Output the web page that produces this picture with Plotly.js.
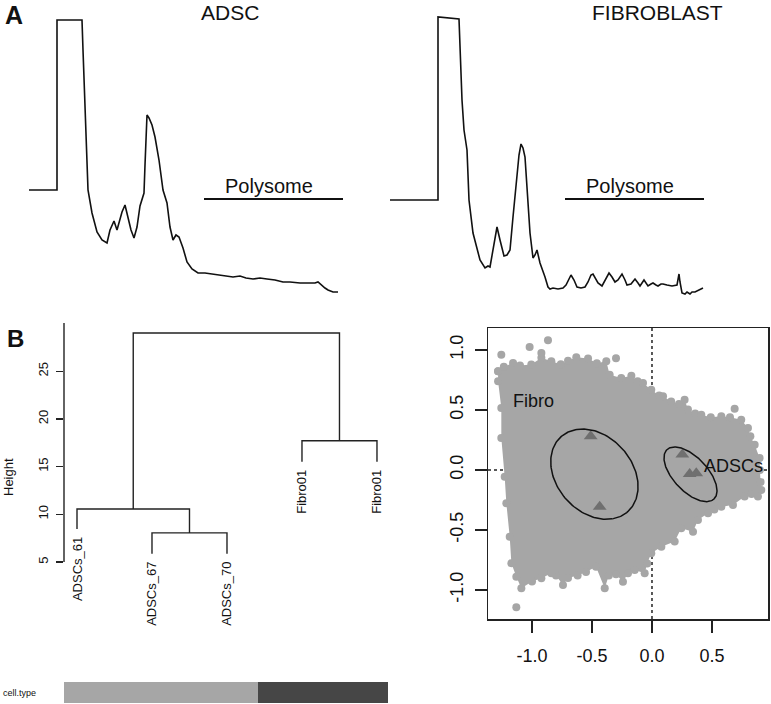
<!DOCTYPE html>
<html><head><meta charset="utf-8">
<script src="https://cdn.plot.ly/plotly-3.0.1.min.js"></script>
<style>html,body{margin:0;padding:0;background:#fff}#chart{width:771px;height:704px}</style>
</head><body><div id="chart"></div>
<script>
// ---------- Panel A: polysome profiles (position, absorbance; arbitrary units) ----------
const adscPos = [0,28,28,53,54,57,59,63,68,73,78,81,85,88,91,93,96,99,102,105,108,111,113,115,116,117,118,120,123,126,130,134,138,141,144,147,150,154,158,163,169,176,184,191,198,204,211,217,224,231,238,246,254,261,271,279,286,289,293,296,299,304,309];
const adscAbs = [105,105,275,275,245,162,105,82,63,55,52,65,74,65,75,83,90,78,65,57,68,89,95,102,130,165,180,177,170,158,135,105,92,68,55,60,58,47,33,26,22,22,21,20,19,18,19,17,16,17,16,15,13,13,12,12,12,13,9,7,5,3,3];
const fibroPos = [0,48,48,69,72,74,77,79,83,87,90,95,98,100,103,107,110,114,117,120,123,127,129,131,133,135,137,138,140,143,145,147,150,155,158,160,163,168,173,176,179,181,184,187,191,195,198,201,203,205,208,212,215,219,222,225,228,232,235,237,241,245,248,250,254,256,258,261,263,266,268,271,273,277,282,287,289,290,292,295,297,300,302,305,309,313];
const fibroAbs = [95,95,278,276,195,165,145,95,62,45,35,27,29,28,45,68,55,39,40,45,78,122,140,151,147,138,108,88,62,37,40,45,32,18,8,6,7,6,7,10,17,20,15,8,7,8,13,20,21,17,12,9,15,22,18,13,15,21,15,10,11,16,12,9,15,12,9,11,12,10,9,11,11,10,9,10,21,13,2,1,3,1,3,3,5,7];
const profileTitles = ['ADSC','FIBROBLAST'];
const polysomeStart = 175, polysomeEnd = 314, polysomeLevel = 96;

// ---------- Panel B left: hierarchical clustering (R-style merge matrix) ----------
const leafNames = ['ADSCs_61','ADSCs_67','ADSCs_70','Fibro01','Fibro01'];
const leafPos = [1,2,3,4,5];
const leafHang = [8.45,5.85,5.85,15.5,15.5];
const mergeA = [-2,-4,-1,2];
const mergeB = [-3,-5,1,3];
const mergeHeight = [8.05,17.7,10.55,29.0];
const heightTicks = [5,10,15,20,25];
const cellType = ['ADSC','ADSC','ADSC','Fibro','Fibro'];

// ---------- Panel B right: PCA-like scatter ----------
const cloudX = [-1.283,-1.235,-1.158,-1.10,-1.006,-0.922,-0.839,-0.76,-0.70,-0.631,-0.533,-0.46,-0.381,-0.353,-0.256,-0.172,-0.12,-0.075,-0.006,0.06,0.092,0.16,0.225,0.272,0.30,0.36,0.411,0.49,0.578,0.65,0.744,0.80,0.82,0.856,0.897,0.90,0.905,0.911,0.883,0.83,0.772,0.675,0.578,0.52,0.467,0.383,0.342,0.244,0.189,0.078,-0.006,-0.04,-0.061,-0.144,-0.20,-0.242,-0.30,-0.36,-0.394,-0.467,-0.55,-0.62,-0.70,-0.742,-0.80,-0.839,-0.922,-1.00,-1.089,-1.131,-1.172,-1.186,-1.214,-1.228,-1.256,-1.256,-1.283];
const cloudY = [0.822,0.86,0.892,0.87,0.878,0.935,0.906,0.88,0.91,0.939,0.928,0.89,0.906,0.794,0.767,0.786,0.74,0.725,0.669,0.62,0.614,0.57,0.55,0.586,0.503,0.47,0.461,0.44,0.447,0.44,0.419,0.35,0.28,0.211,0.10,0.0,-0.10,-0.167,-0.222,-0.20,-0.222,-0.292,-0.306,-0.33,-0.361,-0.417,-0.514,-0.486,-0.597,-0.639,-0.694,-0.78,-0.861,-0.833,-0.86,-0.931,-0.87,-0.88,-0.986,-0.806,-0.85,-0.88,-0.90,-0.958,-0.88,-0.861,-0.903,-0.93,-0.986,-0.889,-0.778,-0.556,-0.278,-0.056,0.267,0.517,0.739];
const outlierX = [-1.256,-1.02,-0.867,-0.922,0.689,-1.131,-0.30];
const outlierY = [0.961,1.025,1.08,0.975,0.511,-1.144,0.93];
const sampleX = [-0.511,-0.436,0.253,0.314,0.369];
const sampleY = [0.281,-0.306,0.128,-0.033,-0.028];
const ellipseLabels = ['Fibro','ADSCs'];
const ellipseCx = [-0.48,0.321];
const ellipseCy = [-0.035,-0.036];
const ellipseA = [0.418,0.284];
const ellipseB = [0.315,0.142];
const ellipseAngle = [-48.4,-46.5];
const labelX = [-0.986,0.678];
const labelY = [0.572,0.035];
const scatterTicks = [-1,-0.5,0,0.5,1];

// ---------- helpers ----------
const W = 771, H = 704;
const fx = v => v / W, fy = v => 1 - v / H;
const FONT = '"Liberation Sans", Arial, Helvetica, sans-serif';
const fmt = v => v.toFixed(1);

function ellipsePts(cx, cy, a, b, deg) {
  const t = deg * Math.PI / 180, xs = [], ys = [];
  for (let i = 0; i <= 180; i++) {
    const u = 2 * Math.PI * i / 180;
    xs.push(cx + a * Math.cos(u) * Math.cos(t) - b * Math.sin(u) * Math.sin(t));
    ys.push(cy + a * Math.cos(u) * Math.sin(t) + b * Math.sin(u) * Math.cos(t));
  }
  return [xs, ys];
}

// dendrogram segments
const nodeX = [], nodeY = [];
const dx = [], dy = [];
function childPos(id) {
  if (id < 0) return [leafPos[-id - 1], leafHang[-id - 1]];
  return [nodeX[id - 1], nodeY[id - 1]];
}
for (let i = 0; i < mergeHeight.length; i++) {
  const [ax, ay] = childPos(mergeA[i]);
  const [bx, by] = childPos(mergeB[i]);
  const h = mergeHeight[i];
  dx.push(ax, ax, bx, bx, null);
  dy.push(ay, h, h, by, null);
  nodeX.push((ax + bx) / 2);
  nodeY.push(h);
}

const traces = [];
// Panel A
traces.push({x: adscPos, y: adscAbs, xaxis: 'x', yaxis: 'y', mode: 'lines', line: {color: '#111', width: 1.6}, hoverinfo: 'skip'});
traces.push({x: [polysomeStart, polysomeEnd], y: [polysomeLevel, polysomeLevel], xaxis: 'x', yaxis: 'y', mode: 'lines', line: {color: '#111', width: 2}, hoverinfo: 'skip'});
traces.push({x: fibroPos, y: fibroAbs, xaxis: 'x2', yaxis: 'y2', mode: 'lines', line: {color: '#111', width: 1.6}, hoverinfo: 'skip'});
traces.push({x: [polysomeStart, polysomeEnd], y: [polysomeLevel, polysomeLevel], xaxis: 'x2', yaxis: 'y2', mode: 'lines', line: {color: '#111', width: 2}, hoverinfo: 'skip'});
// Dendrogram
traces.push({x: dx, y: dy, xaxis: 'x3', yaxis: 'y3', mode: 'lines', line: {color: '#222', width: 1.4}, hoverinfo: 'skip', connectgaps: false});
// cell type bar
traces.push({type: 'heatmap', z: [cellType.map(c => c === 'ADSC' ? 0 : 1)], x: leafPos, y: [0], xaxis: 'x5', yaxis: 'y5',
  colorscale: [[0, '#a6a6a6'], [1, '#464646']], showscale: false, zmin: 0, zmax: 1, hoverinfo: 'skip'});
// Scatter
traces.push({x: cloudX.concat([cloudX[0]]), y: cloudY.concat([cloudY[0]]), xaxis: 'x4', yaxis: 'y4', mode: 'markers', fill: 'toself',
  fillcolor: '#a6a6a6', line: {width: 0, color: '#a6a6a6'}, marker: {size: 8, color: '#a6a6a6'}, hoverinfo: 'skip'});
traces.push({x: outlierX, y: outlierY, xaxis: 'x4', yaxis: 'y4', mode: 'markers', marker: {size: 8, color: '#a6a6a6'}, hoverinfo: 'skip'});
traces.push({x: sampleX, y: sampleY, xaxis: 'x4', yaxis: 'y4', mode: 'markers', marker: {symbol: 'triangle-up', size: 12, color: '#6f6f6f'}, hoverinfo: 'skip'});
for (let i = 0; i < ellipseCx.length; i++) {
  const [ex, ey] = ellipsePts(ellipseCx[i], ellipseCy[i], ellipseA[i], ellipseB[i], ellipseAngle[i]);
  traces.push({x: ex, y: ey, xaxis: 'x4', yaxis: 'y4', mode: 'lines', line: {color: '#111', width: 1.5}, hoverinfo: 'skip'});
}

const annotations = [];
const paperText = (x, y, text, size, extra) => Object.assign({xref: 'paper', yref: 'paper', x: fx(x), y: fy(y), xanchor: 'center', yanchor: 'middle',
  text: text, showarrow: false, font: {size: size, color: '#111'}}, extra || {});
annotations.push(paperText(14, 15, '<b>A</b>', 25));
annotations.push(paperText(15, 338, '<b>B</b>', 24));
annotations.push(paperText(230, 13, profileTitles[0], 21));
annotations.push(paperText(657, 13, profileTitles[1], 21));
['x', 'x2'].forEach((xa, k) => {
  annotations.push({xref: xa, yref: k === 0 ? 'y' : 'y2', x: (polysomeStart + polysomeEnd) / 2 - 5, y: polysomeLevel, yanchor: 'bottom', xanchor: 'center',
    text: 'Polysome', showarrow: false, font: {size: 20, color: '#111'}});
});
leafNames.forEach((n, i) => {
  annotations.push({xref: 'x3', yref: 'y3', x: leafPos[i], y: leafHang[i], yshift: -6, yanchor: 'top', xanchor: 'center',
    text: n, textangle: -90, showarrow: false, font: {size: 13, color: '#111'}});
});
annotations.push(paperText(8, 477, 'Height', 13, {textangle: -90}));
annotations.push(paperText(1, 693, 'cell.type', 9, {xanchor: 'left'}));
ellipseLabels.forEach((t, i) => {
  annotations.push({xref: 'x4', yref: 'y4', x: labelX[i], y: labelY[i], xanchor: 'center', text: t, showarrow: false, font: {size: 18, color: '#111'}});
});

const shapes = [
  {type: 'line', xref: 'paper', yref: 'y3', x0: fx(64), x1: fx(64), y0: 5, y1: 30.05, line: {color: '#222', width: 1.4}},
  {type: 'line', xref: 'x4', yref: 'y4', x0: 0, x1: 0, y0: -1.242, y1: 1.183, layer: 'below', line: {color: '#222', width: 1.5, dash: 'dot'}},
  {type: 'line', xref: 'x4', yref: 'y4', x0: -1.367, x1: 0.967, y0: 0, y1: 0, layer: 'below', line: {color: '#222', width: 1.5, dash: 'dot'}}
];

const hidden = {visible: false, showgrid: false, zeroline: false, fixedrange: true};
const layout = {
  width: W, height: H, margin: {l: 0, r: 0, t: 0, b: 0}, paper_bgcolor: '#fff', plot_bgcolor: 'rgba(0,0,0,0)',
  showlegend: false, font: {family: FONT, color: '#111'}, hovermode: false,
  xaxis: Object.assign({domain: [fx(29), fx(345)], range: [0, 316], anchor: 'y'}, hidden),
  yaxis: Object.assign({domain: [fy(295), fy(15)], range: [0, 280], anchor: 'x'}, hidden),
  xaxis2: Object.assign({domain: [fx(390), fx(706)], range: [0, 316], anchor: 'y2'}, hidden),
  yaxis2: Object.assign({domain: [fy(295), fy(15)], range: [0, 280], anchor: 'x2'}, hidden),
  xaxis3: Object.assign({domain: [fx(64), fx(400)], range: [0.8267, 5.307], anchor: 'y3'}, hidden),
  yaxis3: {domain: [fy(638.3), fy(323)], range: [-3, 30.05], anchor: 'x3', showline: false, showgrid: false, zeroline: false,
    tickvals: heightTicks, ticks: 'outside', ticklen: 7, tickwidth: 1.3, tickcolor: '#222', tickangle: -90,
    tickfont: {size: 13, color: '#111'}, ticklabelstandoff: 3, fixedrange: true},
  xaxis4: {domain: [fx(488), fx(768)], range: [-1.367, 0.967], anchor: 'y4', showline: true, mirror: true, linecolor: '#222', linewidth: 1.5,
    showgrid: false, zeroline: false, tickvals: scatterTicks.slice(0, 4), ticktext: scatterTicks.slice(0, 4).map(fmt),
    ticks: 'outside', ticklen: 12, tickwidth: 1.4, tickcolor: '#222', tickfont: {size: 18, color: '#111'}, ticklabelstandoff: 8, fixedrange: true},
  yaxis4: {domain: [fy(619), fy(328)], range: [-1.242, 1.183], anchor: 'x4', showline: true, mirror: true, linecolor: '#222', linewidth: 1.5,
    showgrid: false, zeroline: false, tickvals: scatterTicks, ticktext: scatterTicks.map(fmt), tickangle: -90,
    ticks: 'outside', ticklen: 12, tickwidth: 1.4, tickcolor: '#222', tickfont: {size: 18, color: '#111'}, ticklabelstandoff: 4, fixedrange: true},
  xaxis5: Object.assign({domain: [fx(64), fx(388)], range: [0.5, 5.5], anchor: 'y5'}, hidden),
  yaxis5: Object.assign({domain: [fy(703), fy(682)], range: [-0.5, 0.5], anchor: 'x5'}, hidden),
  annotations: annotations, shapes: shapes
};
Plotly.newPlot('chart', traces, layout, {staticPlot: true, displayModeBar: false});
</script></body></html>
